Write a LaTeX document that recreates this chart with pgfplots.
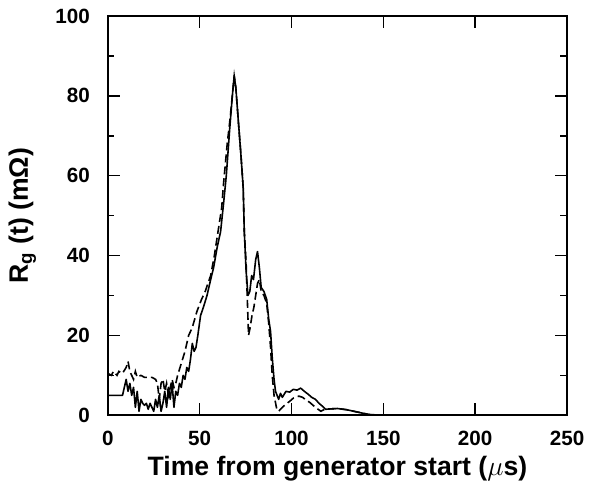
\documentclass[border=0pt]{standalone}
\usepackage{fontspec}
\setmainfont{Liberation Sans}
\usepackage{pgfplots}
\pgfplotsset{compat=1.18}

\begin{document}
\begin{tikzpicture}
\begin{axis}[
    scale only axis,
    width=345pt, height=300pt,
    xmin=0, xmax=250, ymin=0, ymax=100,
    xtick={0,50,100,150,200,250},
    ytick={0,20,40,60,80,100},
    minor ytick={10,30,50,70,90},
    tick align=inside,
    major tick length=9pt, minor tick length=5pt,
    axis line style={line width=1.5pt},
    every tick/.style={line width=1.2pt, black},
    /pgf/number format/assume math mode=true,
    ticklabel style={font=\fontsize{15.5}{15.5}\selectfont\bfseries},
    xticklabel style={yshift=-8pt},
    yticklabel style={xshift=-10pt},
    xlabel={Time from generator start ($\mu$s)},
    ylabel={R\textsubscript{g} (t) (mΩ)},
    label style={font=\fontsize{20}{20}\selectfont\bfseries},
    xlabel style={at={(axis description cs:0.5,-0.15)}, anchor=base},
    ylabel style={at={(axis description cs:-0.186,0.5)}, anchor=center},
]
% solid trace
\addplot[black, line width=1.2pt, line join=round] coordinates {
(0,5) (8,5) (9,7) (10,9) (11,6) (12,8) (13,5) (14,7) (15,2) (16,6) (17,1) (18,4)
(19,3) (20,2.5) (21,3) (22,1.5) (23,3) (24,2) (25,1) (26,4) (27,2) (28,5) (29,1)
(30,3) (31,6) (32,2) (33,7) (34,4) (35,8) (36,2) (37,6) (38,5) (39,8) (40,7)
(41,10) (42,9) (43,12) (44,11) (45,14) (46,18) (47,16) (48,17) (49,20) (50.5,25)
(52,27) (54,30) (56,34) (57.6,37) (59.5,42) (61.4,46) (63,53) (64.5,60) (66.4,72)
(67.8,80) (68.8,85) (69.7,82) (71,74) (72.5,65) (73.7,57) (74.3,46) (75.3,36)
(76.3,30) (77.3,31) (78.3,35) (79.3,34) (80.5,39) (81.5,41) (82.5,37) (83.5,32)
(85,31) (86.5,29) (87.6,24) (88.6,21) (89.5,14.5) (90.5,9) (91.3,6) (93,4)
(94,5.5) (95,4.5) (97,6) (99,5.8) (101,6.5) (103,6.3) (105,6.8) (107,6) (109,5.3)
(111,4.5) (113,4) (115,3) (117,2.2) (118.5,1.5) (121,1.6) (125,1.7) (130,1.4)
(134,1) (138,0.6) (142,0.2) (150,0) (250,0)
};
% dashed trace
\addplot[black, line width=1.2pt, dash pattern=on 6pt off 3pt] coordinates {
(0,10.5) (2,10) (3,11) (5,10) (6,11) (8,10.5) (10,12) (11,13.5) (12,11) (13,10)
(14,9) (15,11) (16,9.5) (18,10) (20,9.5) (22,9.5) (24,9.5) (26,9) (27,8) (28,4)
(29,8) (30,9) (31,6) (32,8) (33,5) (34,7) (35,9) (36,7) (37,8) (38,10) (40,13)
(42,16) (44,20) (46,22) (48.5,26) (51,29) (53,31) (56,35) (58,40) (60,46)
(62,52) (63,58) (64,63) (65,68) (66.5,74) (68.8,85) (69.7,82) (71,74) (72.5,65)
(73.7,57) (74.3,46) (75.3,38) (76.6,20) (77.5,22) (78.5,25) (79.5,27) (80.5,30)
(81.5,33) (82.5,34) (83.5,31) (85,30) (86.5,28) (87.6,23) (88.6,17) (89.5,10)
(90.5,5) (92,1.5) (93,1) (95,2) (97,2.8) (99,3.5) (101,4.3) (104,4.8) (106,4.5)
(108,3.8) (110,3.2) (113,2) (116,1) (118,1.5) (121,1.6) (125,1.7) (130,1.4)
(134,1) (138,0.6) (142,0.2) (150,0) (250,0)
};
\end{axis}
\pgfresetboundingbox
\path ([shift={(-81pt,-51pt)}]current axis.south west)
  rectangle ([shift={(18pt,12pt)}]current axis.north east);
\end{tikzpicture}
\end{document}
